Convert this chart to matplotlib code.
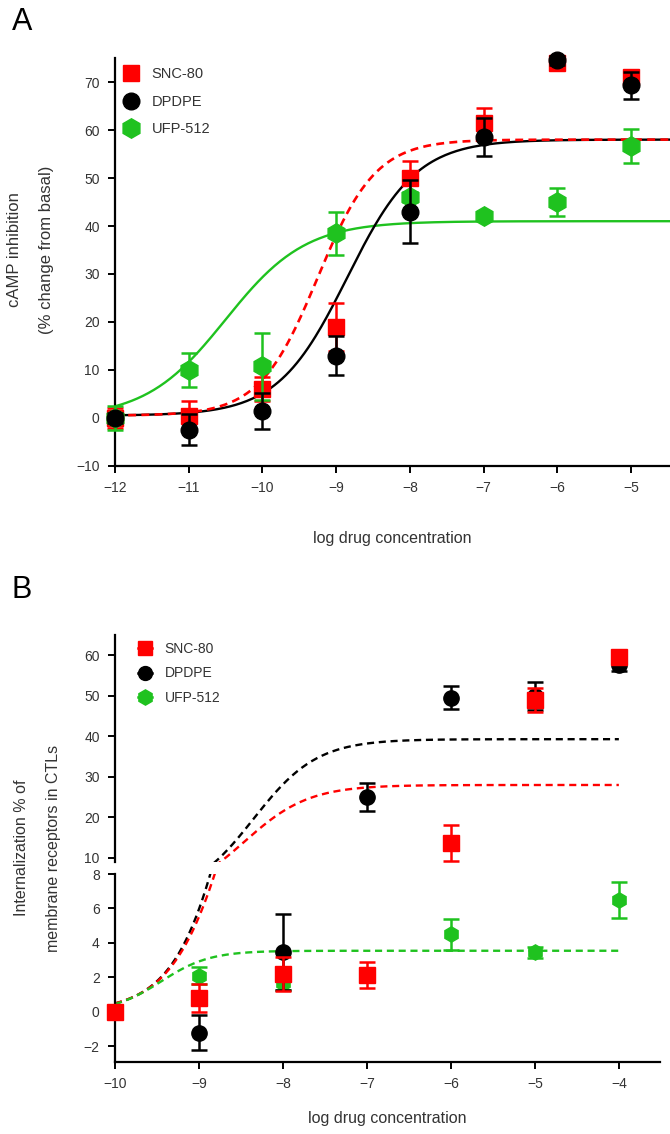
import numpy as np
import matplotlib
matplotlib.use("Agg")
import matplotlib.pyplot as plt
from matplotlib.lines import Line2D

plt.rcParams['font.family'] = ['Liberation Sans', 'DejaVu Sans']

RED = '#ff0000'
BLACK = '#000000'
GREEN = '#1fc21f'
TXT = '#333333'

# ---------------- panel A : cAMP inhibition ----------------
x_a = [-12, -11, -10, -9, -8, -7, -6, -5]
snc_a = [0, 0.5, 6, 19, 50, 61.5, 74, 71]
snc_a_err = [2, 3, 2.5, 5, 3.5, 3, 1, 1.5]
dpdpe_a = [0, -2.4, 1.5, 13, 43, 58.5, 74.5, 69.3]
dpdpe_a_err = [1, 3.3, 3.8, 4, 6.5, 4, 1, 2.8]
ufp_a = [0, 10, 10.8, 38.5, 46, 42, 45, 56.7]
ufp_a_err = [2.4, 3.5, 7, 4.5, 1, 0.8, 3, 3.5]

# sigmoid fits (bottom, top, logEC50, hill)
fit_snc_a = (0.5, 58, -9.25, 1.1)
fit_dpdpe_a = (0.5, 58, -8.85, 0.92)
fit_ufp_a = (0, 41, -10.5, 0.8)

# ---------------- panel B : internalization ----------------
x_b = [-10, -9, -8, -7, -6, -5, -4]
snc_b = [0, 0.8, 2.2, 2.15, 13.7, 49, 59.5]
snc_b_err = [0.3, 0.8, 1.0, 0.75, 4.5, 3, 1.5]
dpdpe_b = [0, -1.2, 3.5, 25, 49.5, 50, 57.5]
dpdpe_b_err = [0.3, 1.0, 2.2, 3.4, 2.8, 3.5, 1.5]
x_b_ufp = [-10, -9, -8, -6, -5, -4]
ufp_b = [0, 2.1, 1.7, 4.5, 3.45, 6.5]
ufp_b_err = [0.2, 0.5, 0.4, 0.9, 0.3, 1.05]

fit_snc_b = (0, 28, -8.46, 1.13)
fit_dpdpe_b = (0, 39.3, -8.35, 1.15)
fit_ufp_b = (0, 3.55, -9.45, 1.5)

labels = ['SNC-80', 'DPDPE', 'UFP-512']

CORTE = 8.5  # valores por encima van al eje superior del panel B


def sigmoide(x, p):
    bottom, top, ec50, hill = p
    return bottom + (top - bottom) / (1 + 10 ** ((ec50 - x) * hill))


def estilo_ejes(ax, left=True, bottom=True):
    for s in ['top', 'right']:
        ax.spines[s].set_visible(False)
    ax.spines['left'].set_visible(left)
    ax.spines['bottom'].set_visible(bottom)
    for s in ['left', 'bottom']:
        ax.spines[s].set_linewidth(1.6)
    ax.tick_params(direction='out', length=5, width=1.4, labelsize=10,
                   labelcolor=TXT, pad=6)
    ax.set_facecolor('none')


def puntos(ax, x, y, err, arriba, **kw):
    x, y, err = np.asarray(x), np.asarray(y), np.asarray(err)
    m = (y > CORTE) if arriba else (y <= CORTE)
    if m.any():
        c = ax.errorbar(x[m], y[m], yerr=err[m], **kw)
        for art in c.get_children():
            art.set_clip_on(False)


W, H = 670, 1134
fig = plt.figure(figsize=(W / 100, H / 100), dpi=100)


def rect(l, t, r, b):
    return [l / W, 1 - b / H, (r - l) / W, (b - t) / H]


eb = dict(ls='none', elinewidth=1.8, capsize=6, capthick=1.8)

# ===================== A =====================
axA = fig.add_axes(rect(115, 58, 670, 466))
estilo_ejes(axA)
xs = np.linspace(-12, -4.47, 300)
axA.plot(xs, sigmoide(xs, fit_ufp_a), color=GREEN, lw=1.7, zorder=2)
axA.plot(xs, sigmoide(xs, fit_dpdpe_a), color=BLACK, lw=1.7, zorder=2)
axA.plot(xs, sigmoide(xs, fit_snc_a), color=RED, lw=1.9, ls=(0, (3, 2)), zorder=2)

for y, e, col, mk, ms, z in [(snc_a, snc_a_err, RED, 's', 12, 3),
                             (ufp_a, ufp_a_err, GREEN, 'h', 14, 4),
                             (dpdpe_a, dpdpe_a_err, BLACK, 'o', 12, 5)]:
    c = axA.errorbar(x_a, y, yerr=e, color=col, marker=mk, ms=ms, zorder=z, **eb)
    for art in c.get_children():
        art.set_clip_on(False)

axA.set_xlim(-12, -4.47)
axA.set_ylim(-10, 75)
axA.set_xticks(x_a)
axA.set_yticks(np.arange(-10, 71, 10))
axA.set_xlabel('log drug concentration', fontsize=11.5, color=TXT, labelpad=26)

handlesA = [Line2D([], [], color=RED, marker='s', ms=12, lw=1.8),
            Line2D([], [], color=BLACK, marker='o', ms=12, lw=1.8),
            Line2D([], [], color=GREEN, marker='h', ms=14, lw=1.8)]
legA = axA.legend(handlesA, labels, loc='upper left', bbox_to_anchor=(0.0, 1.0),
                  frameon=False, fontsize=10.5, handlelength=1.0,
                  handletextpad=0.9, labelspacing=0.95, borderaxespad=0.2)
for t in legA.get_texts():
    t.set_color(TXT)

fig.text(15 / W, 1 - 250 / H, 'cAMP inhibition', rotation=90, ha='center',
         va='center', fontsize=12, color=TXT)
fig.text(47 / W, 1 - 250 / H, '(% change from basal)', rotation=90, ha='center',
         va='center', fontsize=12, color=TXT)
fig.text(12 / W, 1 - 22 / H, 'A', fontsize=22, ha='left', va='center')

# ===================== B =====================
axBu = fig.add_axes(rect(115, 635, 660, 862))
axBl = fig.add_axes(rect(115, 874, 660, 1062))
estilo_ejes(axBu, bottom=False)
estilo_ejes(axBl)
axBu.tick_params(axis='x', which='both', bottom=False, labelbottom=False)

xb = np.linspace(-10, -4, 300)
for ax, arriba in [(axBu, True), (axBl, False)]:
    ax.plot(xb, sigmoide(xb, fit_dpdpe_b), color=BLACK, lw=1.7, ls=(0, (3, 2)), zorder=2)
    ax.plot(xb, sigmoide(xb, fit_snc_b), color=RED, lw=1.7, ls=(0, (3, 2)), zorder=2)
    ax.plot(xb, sigmoide(xb, fit_ufp_b), color=GREEN, lw=1.7, ls=(0, (3, 2)), zorder=2)
    puntos(ax, x_b_ufp, ufp_b, ufp_b_err, arriba, color=GREEN, marker='h', ms=11, zorder=3, **eb)
    puntos(ax, x_b, dpdpe_b, dpdpe_b_err, arriba, color=BLACK, marker='o', ms=11, zorder=4, **eb)
    puntos(ax, x_b, snc_b, snc_b_err, arriba, color=RED, marker='s', ms=11, zorder=5, **eb)
    ax.set_xlim(-10, -3.51)

axBu.set_ylim(9, 65)
axBu.set_yticks(np.arange(10, 61, 10))
axBl.set_ylim(-2.9, 8)
axBl.set_yticks(np.arange(-2, 9, 2))
axBl.set_xticks(x_b)
axBl.set_xlabel('log drug concentration', fontsize=11.5, color=TXT, labelpad=14)

handlesB = [Line2D([], [], color=RED, marker='s', ms=10, lw=1.8),
            Line2D([], [], color=BLACK, marker='o', ms=10, lw=1.8),
            Line2D([], [], color=GREEN, marker='h', ms=11, lw=1.8)]
legB = axBu.legend(handlesB, labels, loc='upper left', bbox_to_anchor=(0.03, 1.0),
                   frameon=False, fontsize=10, handlelength=1.0,
                   handletextpad=0.9, labelspacing=0.75, borderaxespad=0.1)
for t in legB.get_texts():
    t.set_color(TXT)

fig.text(22 / W, 1 - 848 / H, 'Internalization % of', rotation=90, ha='center',
         va='center', fontsize=11.5, color=TXT)
fig.text(54 / W, 1 - 848 / H, 'membrane receptors in CTLs', rotation=90, ha='center',
         va='center', fontsize=11.5, color=TXT)
fig.text(12 / W, 1 - 590 / H, 'B', fontsize=22, ha='left', va='center')

fig.savefig('out.png', dpi=100)
